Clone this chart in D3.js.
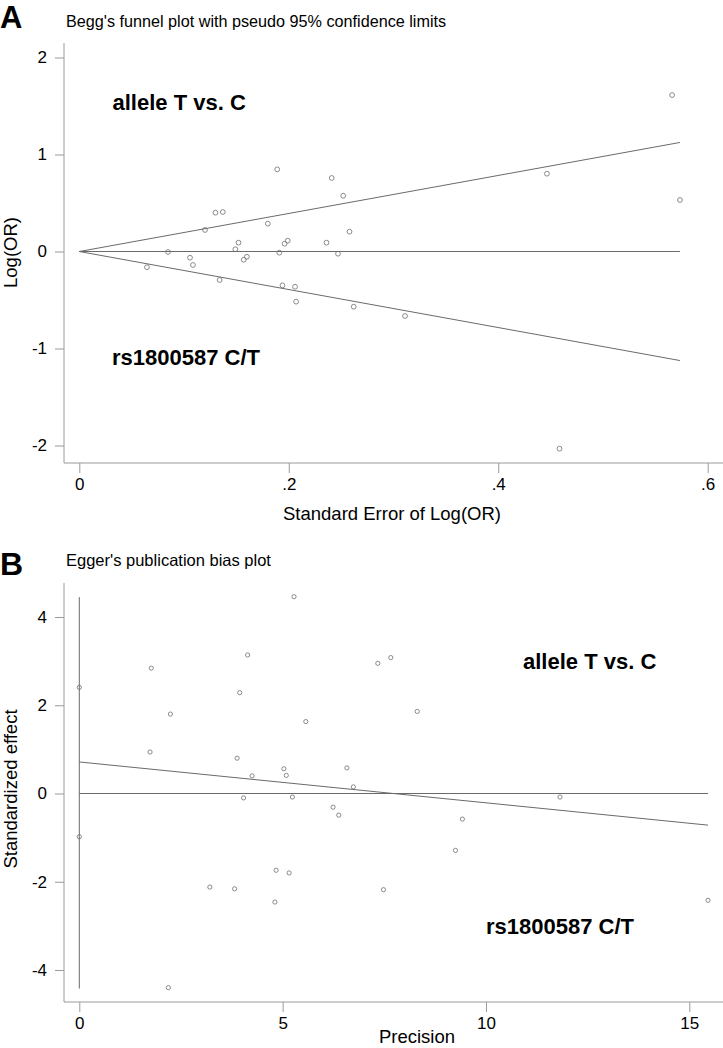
<!DOCTYPE html>
<html>
<head>
<meta charset="utf-8">
<script src="https://cdn.jsdelivr.net/npm/d3@7"></script>
<style>
html,body{margin:0;padding:0;background:#fff;}
svg{display:block;}
text{font-family:"Liberation Sans", Arial, sans-serif;fill:#000;}
</style>
</head>
<body>
<svg id="chart" width="723" height="1048"></svg>
<script>
// ---------- Panel A: Begg's funnel plot ----------
const beggSE = [0.0646,0.0847,0.1057,0.1085,0.120,0.130,0.137,0.134,0.149,0.152,0.157,0.160,0.180,0.189,0.191,0.194,0.196,0.199,0.206,0.207,0.236,0.241,0.247,0.252,0.258,0.262,0.311,0.4465,0.4585,0.566,0.5735];
const beggLogOR = [-0.162,-0.005,-0.064,-0.139,0.222,0.400,0.407,-0.294,0.023,0.091,-0.085,-0.054,0.287,0.847,-0.012,-0.349,0.080,0.111,-0.363,-0.517,0.091,0.758,-0.023,0.575,0.204,-0.569,-0.665,0.802,-2.033,1.613,0.531];
const funnelMaxSE = 0.5735;
const funnelZ = 1.96;
const beggXTicks = [0, 0.2, 0.4, 0.6];
const beggYTicks = [-2, -1, 0, 1, 2];

// ---------- Panel B: Egger's publication bias plot ----------
const eggerPrecision = [0,1.77,1.74,2.24,4.14,3.945,3.88,5.28,5.57,5.03,5.09,4.25,6.58,7.34,7.66,8.31,0,6.74,4.04,5.24,6.24,6.38,11.82,9.42,9.25,4.84,5.16,3.21,3.82,4.81,7.48,15.46,2.19];
const eggerStdEffect = [2.405,2.84,0.94,1.80,3.14,2.285,0.80,4.46,1.63,0.56,0.41,0.40,0.58,2.95,3.08,1.86,-0.98,0.15,-0.10,-0.08,-0.31,-0.49,-0.08,-0.58,-1.29,-1.74,-1.80,-2.12,-2.16,-2.46,-2.18,-2.42,-4.40];
const eggerFitX = [0, 15.46];
const eggerFitY = [0.715, -0.717];
const eggerCI = [-4.42, 4.45];
const eggerXTicks = [0, 5, 10, 15];
const eggerYTicks = [-4, -2, 0, 2, 4];

const svg = d3.select("#chart");
const AXIS_COL = "#9a9a9a";
const LINE_COL = "#6a6a6a";
const MARK_COL = "#6e6e6e";
const intFmt = d => String(d).replace("\u2212", "-");

function styleAxis(g){
  g.select(".domain").remove();
  g.selectAll(".tick line").attr("stroke", AXIS_COL).attr("stroke-width", 1);
  g.selectAll(".tick text").attr("font-family", '"Liberation Sans", Arial, sans-serif').attr("font-size", 17).attr("fill", "#000");
}

// ===== Panel A =====
const A = {left:64, top:43, bottom:463, right:723};
const xA = d3.scaleLinear().domain([0, 0.6]).range([79.3, 707.7]);
const yA = d3.scaleLinear().domain([-2, 2]).range([445.5, 57.5]);
const gA = svg.append("g");

gA.append("text").attr("x", 0).attr("y", 28).attr("font-size", 31).attr("font-weight", "bold").text("A");
gA.append("text").attr("x", 66).attr("y", 26.5).attr("font-size", 16.2).text("Begg's funnel plot with pseudo 95% confidence limits");

gA.append("line").attr("x1", A.left).attr("x2", A.left).attr("y1", A.top).attr("y2", A.bottom).attr("stroke", AXIS_COL);
gA.append("line").attr("x1", A.left).attr("x2", A.right).attr("y1", A.bottom).attr("y2", A.bottom).attr("stroke", AXIS_COL);

gA.append("g").attr("transform", `translate(${A.left},0)`)
  .call(d3.axisLeft(yA).tickValues(beggYTicks).tickSize(9).tickPadding(8).tickFormat(intFmt))
  .call(styleAxis);
gA.append("g").attr("transform", `translate(0,${A.bottom})`)
  .call(d3.axisBottom(xA).tickValues(beggXTicks).tickSize(10).tickPadding(5)
     .tickFormat(d => d === 0 ? "0" : d3.format(".1f")(d).replace(/^0\./, ".")))
  .call(styleAxis);

gA.append("text").attr("transform", "translate(16.5,252.5) rotate(-90)").attr("text-anchor", "middle")
  .attr("font-size", 18.5).text("Log(OR)");
gA.append("text").attr("x", 392).attr("y", 520).attr("text-anchor", "middle")
  .attr("font-size", 18.5).text("Standard Error of Log(OR)");

const lineA = d3.line().x(d => xA(d[0])).y(d => yA(d[1]));
[[[0,0],[funnelMaxSE, funnelZ*funnelMaxSE]],
 [[0,0],[funnelMaxSE, -funnelZ*funnelMaxSE]],
 [[0,0],[funnelMaxSE, 0]]].forEach(seg => {
  gA.append("path").attr("d", lineA(seg)).attr("fill", "none").attr("stroke", LINE_COL).attr("stroke-width", 1);
});

gA.append("g").selectAll("circle").data(beggSE.map((s, i) => [s, beggLogOR[i]])).join("circle")
  .attr("cx", d => xA(d[0])).attr("cy", d => yA(d[1])).attr("r", 2.4)
  .attr("fill", "none").attr("stroke", MARK_COL).attr("stroke-width", 0.8);

gA.append("text").attr("x", 112.5).attr("y", 110).attr("font-size", 22).attr("font-weight", "bold").text("allele T vs. C");
gA.append("text").attr("x", 112).attr("y", 365).attr("font-size", 22).attr("font-weight", "bold").text("rs1800587 C/T");

// ===== Panel B =====
const B = {left:64, top:583, bottom:1002, right:723};
const xB = d3.scaleLinear().domain([0, 15]).range([79.3, 689.3]);
const yB = d3.scaleLinear().domain([-4, 4]).range([970, 617]);
const gB = svg.append("g");

gB.append("text").attr("x", 0).attr("y", 575).attr("font-size", 32).attr("font-weight", "bold").text("B");
gB.append("text").attr("x", 66).attr("y", 565.5).attr("font-size", 16.5).text("Egger's publication bias plot");

gB.append("line").attr("x1", B.left).attr("x2", B.left).attr("y1", B.top).attr("y2", B.bottom).attr("stroke", AXIS_COL);
gB.append("line").attr("x1", B.left).attr("x2", B.right).attr("y1", B.bottom).attr("y2", B.bottom).attr("stroke", AXIS_COL);

gB.append("g").attr("transform", `translate(${B.left},0)`)
  .call(d3.axisLeft(yB).tickValues(eggerYTicks).tickSize(9).tickPadding(8).tickFormat(intFmt))
  .call(styleAxis);
gB.append("g").attr("transform", `translate(0,${B.bottom})`)
  .call(d3.axisBottom(xB).tickValues(eggerXTicks).tickSize(10).tickPadding(5).tickFormat(intFmt))
  .call(styleAxis);

gB.append("text").attr("transform", "translate(16.5,789) rotate(-90)").attr("text-anchor", "middle")
  .attr("font-size", 18.5).text("Standardized effect");
gB.append("text").attr("x", 417).attr("y", 1043).attr("text-anchor", "middle")
  .attr("font-size", 18.5).text("Precision");

const lineB = d3.line().x(d => xB(d[0])).y(d => yB(d[1]));
gB.append("path").attr("d", lineB([[0, eggerCI[0]], [0, eggerCI[1]]])).attr("fill", "none").attr("stroke", LINE_COL);
gB.append("path").attr("d", lineB([[0, 0], [eggerFitX[1], 0]])).attr("fill", "none").attr("stroke", LINE_COL);
gB.append("path").attr("d", lineB(eggerFitX.map((x, i) => [x, eggerFitY[i]]))).attr("fill", "none").attr("stroke", LINE_COL);

gB.append("g").selectAll("circle").data(eggerPrecision.map((p, i) => [p, eggerStdEffect[i]])).join("circle")
  .attr("cx", d => xB(d[0])).attr("cy", d => yB(d[1])).attr("r", 2.1)
  .attr("fill", "none").attr("stroke", MARK_COL).attr("stroke-width", 0.8);

gB.append("text").attr("x", 523).attr("y", 669).attr("font-size", 22).attr("font-weight", "bold").text("allele T vs. C");
gB.append("text").attr("x", 486).attr("y", 934).attr("font-size", 22).attr("font-weight", "bold").text("rs1800587 C/T");
</script>
</body>
</html>
